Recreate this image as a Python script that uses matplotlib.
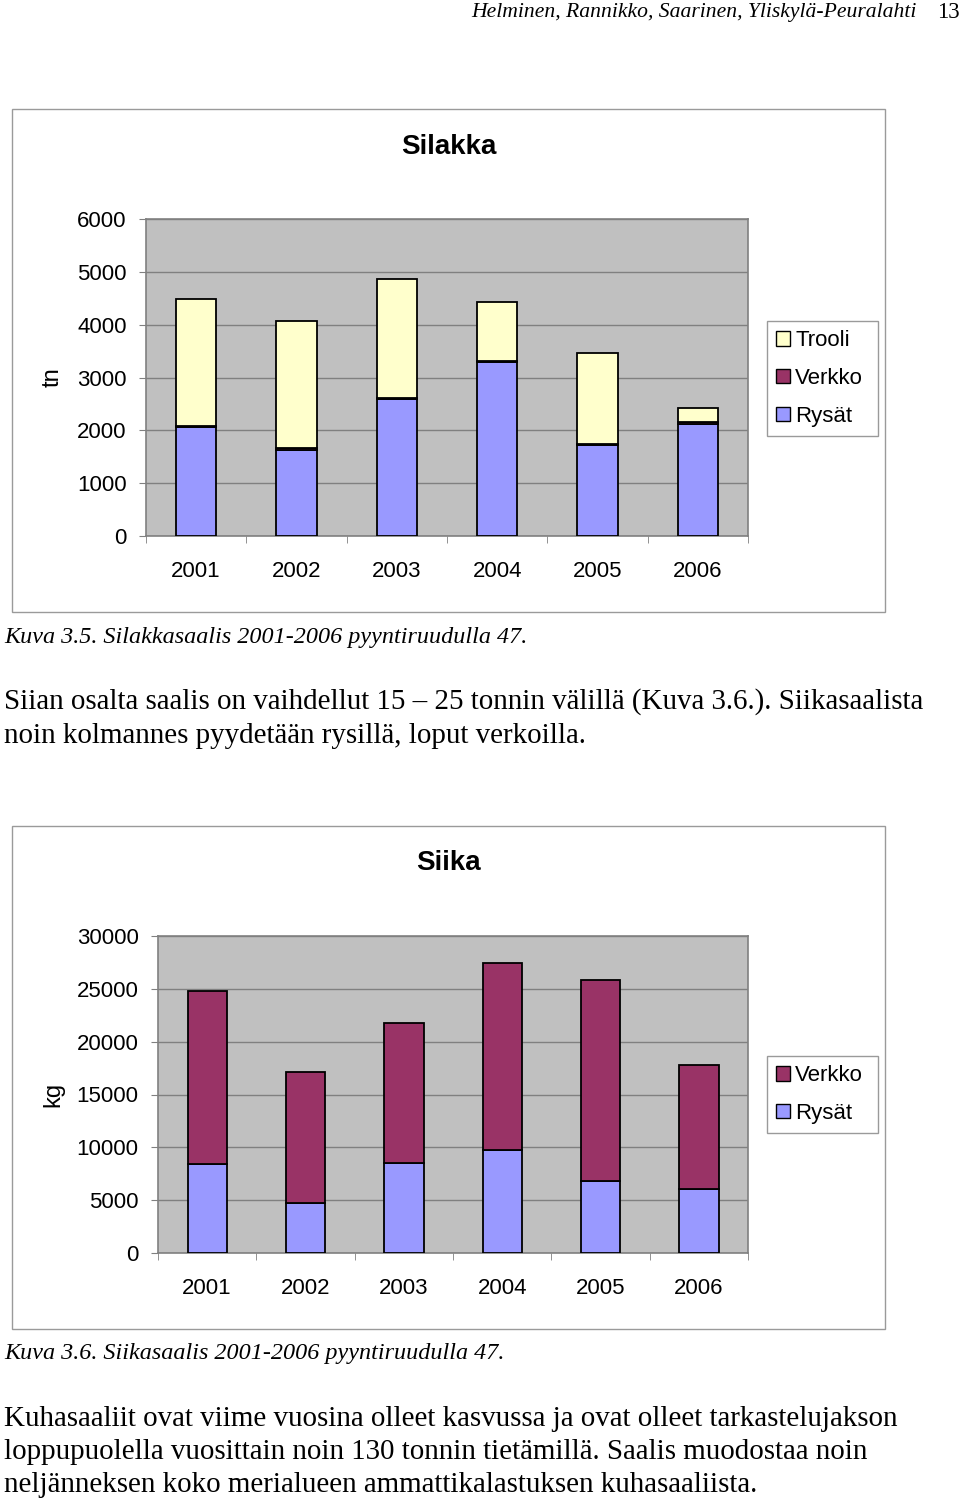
import matplotlib.pyplot as plt
from matplotlib.patches import Rectangle, Patch

# page size in pixels
W, H = 960, 1503

years = ["2001", "2002", "2003", "2004", "2005", "2006"]

# Silakka (tn)
silakka_rysat = [2060, 1630, 2590, 3290, 1720, 2120]
silakka_verkko = [30, 30, 30, 30, 30, 30]
silakka_trooli = [2400, 2410, 2250, 1110, 1720, 270]

# Siika (kg)
siika_rysat = [8390, 4720, 8510, 9720, 6800, 6080]
siika_verkko = [16410, 12380, 13240, 17680, 19060, 11690]

c_rysat = "#9999FF"
c_verkko = "#993366"
c_trooli = "#FFFFCC"

sans = "Liberation Sans"
serif = "Liberation Serif"


def fx(x):
    return x / W


def fy(y):
    return 1 - y / H


def stacked_chart(box, series, labels, colors, ymax, step, ylabel, title,
                  frame, legend_box):
    # outer chart frame
    fig.patches.append(Rectangle((fx(frame[0]), fy(frame[3])),
                                 fx(frame[2] - frame[0]), (frame[3] - frame[1]) / H,
                                 transform=fig.transFigure, fill=False,
                                 edgecolor="#9a9a9a", linewidth=1))
    x0, y0, x1, y1 = box
    ax = fig.add_axes([fx(x0), fy(y1), fx(x1 - x0), (y1 - y0) / H])
    ax.set_facecolor("#C0C0C0")
    xs = range(len(years))
    bottom = [0] * len(years)
    handles = []
    for vals, lab, col in zip(series, labels, colors):
        ax.bar(xs, vals, width=0.4, bottom=bottom, color=col,
               edgecolor="black", linewidth=1.3, zorder=3)
        bottom = [b + v for b, v in zip(bottom, vals)]
        handles.append(Patch(facecolor=col, edgecolor="black", linewidth=1, label=lab))
    ax.set_xlim(-0.5, len(years) - 0.5)
    ax.set_ylim(0, ymax)
    ax.set_yticks(range(0, ymax + 1, step))
    ax.yaxis.grid(True, color="#808080", linewidth=1, zorder=0)
    ax.set_axisbelow(True)
    ax.set_xticks(list(xs))
    ax.set_xticklabels(years, fontsize=16, fontfamily=sans)
    ax.set_xticks([i - 0.5 for i in range(len(years) + 1)], minor=True)
    ax.tick_params(axis="x", which="major", length=0, pad=18)
    ax.tick_params(axis="x", which="minor", length=5, color="#808080", direction="out")
    ax.tick_params(axis="y", length=5, color="#808080", pad=9, labelsize=16)
    for lbl in ax.get_yticklabels():
        lbl.set_fontfamily(sans)
    for s in ax.spines.values():
        s.set_color("#808080")
        s.set_linewidth(1.2)
    # title and unit label
    fig.text(fx((frame[0] + frame[2]) / 2), fy(title[1]), title[0], ha="center",
             va="center", fontsize=20, fontweight="bold", fontfamily=sans)
    fig.text(fx(53), fy((y0 + y1) / 2), ylabel, rotation=90, ha="center",
             va="center", fontsize=17, fontfamily=sans)
    lx0, ly0, lx1, ly1 = legend_box
    leg = ax.legend(handles=handles[::-1], loc="upper left",
                    bbox_to_anchor=(fx(lx0), fy(ly1), fx(lx1 - lx0), (ly1 - ly0) / H),
                    bbox_transform=fig.transFigure, mode="expand",
                    prop={"family": sans, "size": 16}, frameon=True, fancybox=False,
                    edgecolor="#9a9a9a", framealpha=1, borderpad=0.42,
                    handlelength=0.6, handleheight=0.6, handletextpad=0.25,
                    labelspacing=0.75, borderaxespad=0)
    leg.get_frame().set_linewidth(1)
    return ax


fig = plt.figure(figsize=(W / 100, H / 100), dpi=100)

# page header
fig.text(fx(917), fy(12), "Helminen, Rannikko, Saarinen, Yliskylä-Peuralahti",
         ha="right", va="center", fontsize=15.6, fontstyle="italic", fontfamily=serif)
fig.text(fx(960), fy(13), "13", ha="right", va="center", fontsize=16.5, fontfamily=serif)

stacked_chart((146, 219, 748, 536),
              [silakka_rysat, silakka_verkko, silakka_trooli],
              ["Rysät", "Verkko", "Trooli"], [c_rysat, c_verkko, c_trooli],
              6000, 1000, "tn", ("Silakka", 147), (12, 109, 885, 612),
              (767, 321, 878, 437))

fig.text(fx(4), fy(637), "Kuva 3.5. Silakkasaalis 2001-2006 pyyntiruudulla 47.",
         ha="left", va="center", fontsize=17.4, fontstyle="italic", fontfamily=serif)
fig.text(fx(4), fy(702), "Siian osalta saalis on vaihdellut 15 – 25 tonnin välillä (Kuva 3.6.). Siikasaalista",
         ha="left", va="center", fontsize=20.9, fontfamily=serif)
fig.text(fx(4), fy(736), "noin kolmannes pyydetään rysillä, loput verkoilla.",
         ha="left", va="center", fontsize=20.9, fontfamily=serif)

stacked_chart((158, 936, 748, 1253),
              [siika_rysat, siika_verkko],
              ["Rysät", "Verkko"], [c_rysat, c_verkko],
              30000, 5000, "kg", ("Siika", 863), (12, 826, 885, 1329),
              (767, 1056, 878, 1133))

fig.text(fx(4), fy(1353), "Kuva 3.6. Siikasaalis 2001-2006 pyyntiruudulla 47.",
         ha="left", va="center", fontsize=17.4, fontstyle="italic", fontfamily=serif)
body = ["Kuhasaaliit ovat viime vuosina olleet kasvussa ja ovat olleet tarkastelujakson",
        "loppupuolella vuosittain noin 130 tonnin tietämillä. Saalis muodostaa noin",
        "neljänneksen koko merialueen ammattikalastuksen kuhasaaliista."]
for i, line in enumerate(body):
    fig.text(fx(4), fy(1419 + 33 * i), line, ha="left", va="center",
             fontsize=20.9, fontfamily=serif)

fig.savefig("out.png", dpi=100)
